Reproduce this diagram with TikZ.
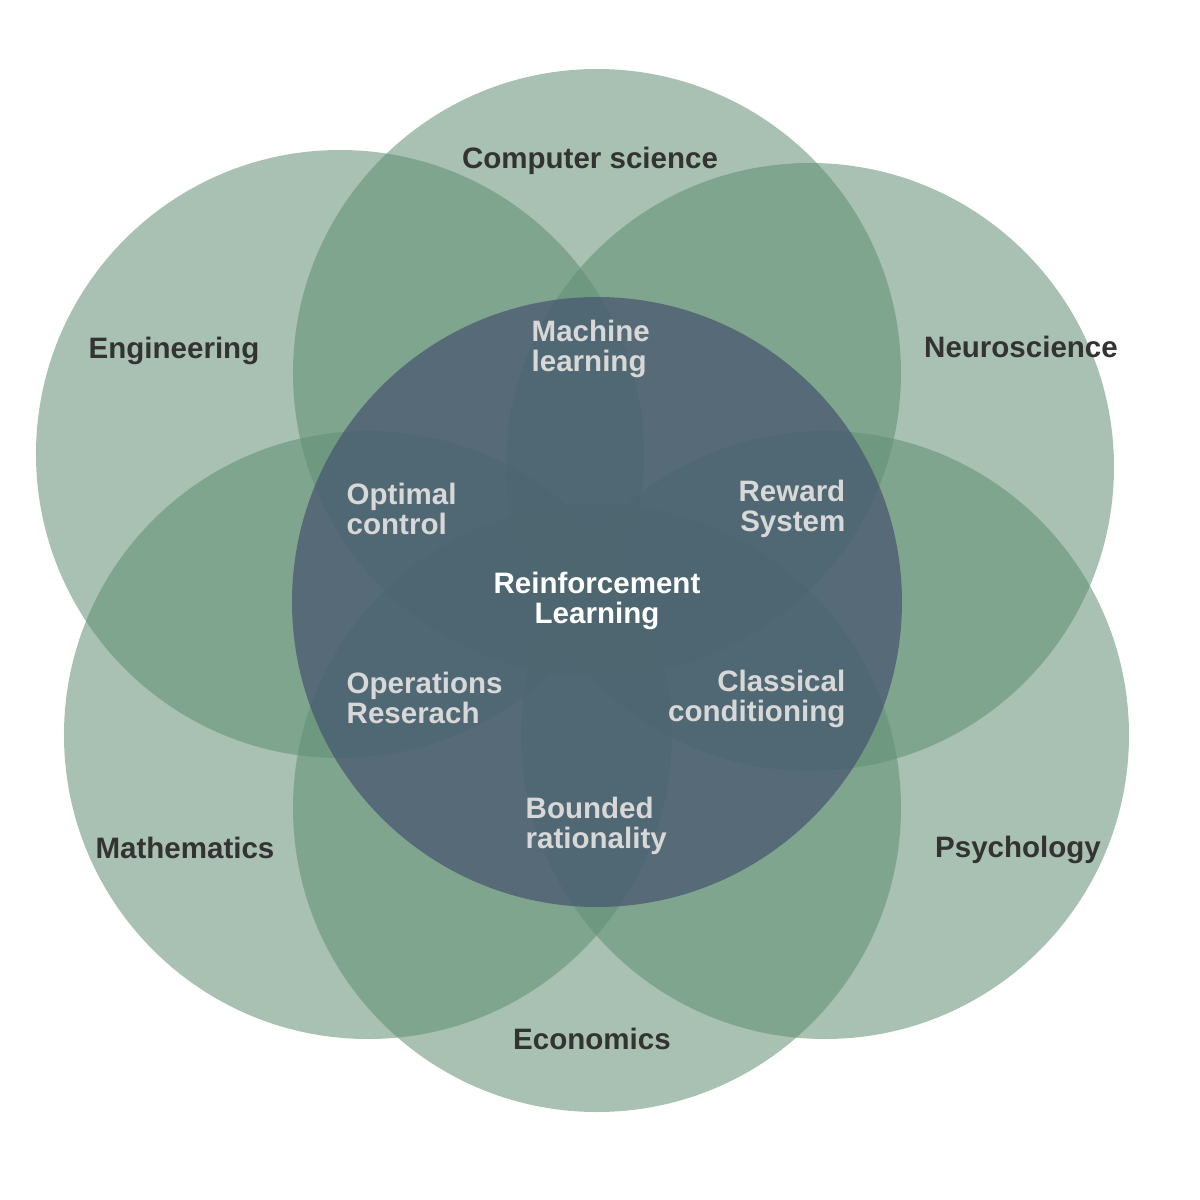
\documentclass[tikz,border=0pt]{standalone}
\usepackage{fontspec}
\setmainfont{Liberation Sans}

\definecolor{fieldGreen}{RGB}{96,142,114}
\definecolor{coreBlue}{RGB}{68,84,110}
\definecolor{outerText}{RGB}{51,51,51}
\definecolor{innerText}{RGB}{216,216,216}

\begin{document}
\begin{tikzpicture}[
	field/.style={circle, fill=fieldGreen, fill opacity=0.55, minimum size=6.08cm, inner sep=0pt},
	core/.style={circle, fill=coreBlue, fill opacity=0.7, minimum size=6.1cm, inner sep=0pt},
	labeltext/.style={inner sep=0pt, font=\bfseries\fontsize{8.4}{8.6}\selectfont},
	outer/.style={labeltext, text=outerText},
	inner/.style={labeltext, text=innerText}
]
	
	% ---- Canvas ----
	\useasboundingbox (-6,-6) rectangle (6,6);
	
	% ---- Outer fields (6 green circles) ----
	\foreach \x/\y/\name in {
		-0.03/2.27/cs,
		-2.60/1.46/eng,
		2.10/1.33/neuro,
		-2.32/-1.35/math,
		2.25/-1.35/psych,
		-0.03/-2.08/econ
	}
	{
		\node[field] (\name) at (\x,\y) {};
	}
	
	% ---- Center field ----
	\node[core] (rl) at (-0.03,-0.02) {};
	
	% ---- Field names ----
	\node[outer] (csLabel) at (-0.10,4.39) {Computer science};
	\node[outer] (engLabel) at (-4.26,2.49) {Engineering};
	\node[outer] (neuroLabel) at (4.21,2.53) {Neuroscience};
	\node[outer] (mathLabel) at (-4.15,-2.48) {Mathematics};
	\node[outer] (psychLabel) at (4.18,-2.50) {Psychology};
	\node[outer] (econLabel) at (-0.08,-4.39) {Economics};
	
	% ---- Overlap names ----
	\node[inner, anchor=west, align=left] (ml) at (-0.69,2.51) {Machine\\learning};
	\node[inner, anchor=west, align=left] (oc) at (-2.54,0.91) {Optimal\\control};
	\node[inner, anchor=east, align=right] (rs) at (2.46,0.91) {Reward\\System};
	\node[inner, anchor=west, align=left] (or) at (-2.54,-0.98) {Operations\\Reserach};
	\node[inner, anchor=east, align=right] (cc) at (2.46,-0.99) {Classical\\conditioning};
	\node[inner, anchor=west, align=left] (br) at (-0.75,-2.26) {Bounded\\rationality};
	
	% ---- Center name ----
	\node[labeltext, text=white, align=center] (rlLabel) at (-0.03,-0.01) {Reinforcement\\Learning};
	
\end{tikzpicture}
\end{document}
